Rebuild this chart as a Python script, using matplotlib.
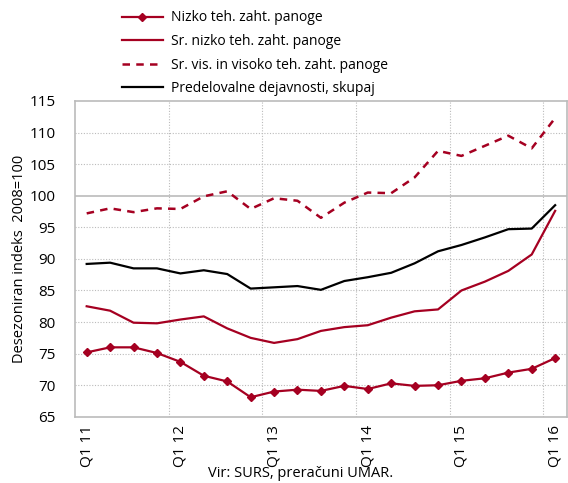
import matplotlib.pyplot as plt

quarters = ["Q1 11", "Q2 11", "Q3 11", "Q4 11", "Q1 12", "Q2 12", "Q3 12", "Q4 12",
            "Q1 13", "Q2 13", "Q3 13", "Q4 13", "Q1 14", "Q2 14", "Q3 14", "Q4 14",
            "Q1 15", "Q2 15", "Q3 15", "Q4 15", "Q1 16"]
nizko = [75.2, 76.0, 76.0, 75.1, 73.7, 71.5, 70.6, 68.1, 69.0, 69.3, 69.1,
         69.9, 69.4, 70.3, 69.9, 70.0, 70.7, 71.1, 72.0, 72.6, 74.3]
sr_nizko = [82.5, 81.8, 79.9, 79.8, 80.4, 80.9, 79.0, 77.5, 76.7, 77.3, 78.6,
            79.2, 79.5, 80.7, 81.7, 82.0, 85.0, 86.4, 88.1, 90.7, 97.6]
sr_visoko = [97.2, 98.0, 97.4, 98.0, 97.9, 99.9, 100.7, 97.9, 99.6, 99.2, 96.5,
             98.9, 100.5, 100.4, 102.9, 107.1, 106.3, 107.9, 109.5, 107.5, 112.3]
skupaj = [89.2, 89.4, 88.5, 88.5, 87.7, 88.2, 87.6, 85.3, 85.5, 85.7, 85.1,
          86.5, 87.1, 87.8, 89.3, 91.2, 92.2, 93.4, 94.7, 94.8, 98.5]

red = "#A50021"
plt.rcParams["font.family"] = ["Open Sans", "DejaVu Sans"]

fig = plt.figure(figsize=(5.68, 4.83), dpi=100)
ax = fig.add_axes([0.132, 0.137, 0.866, 0.654])

x = list(range(len(quarters)))
l1, = ax.plot(x, nizko, color=red, lw=1.6, marker="D", ms=4)
l2, = ax.plot(x, sr_nizko, color=red, lw=1.6)
l3, = ax.plot(x, sr_visoko, color=red, lw=1.8, ls=(0, (3, 2.5)))
l4, = ax.plot(x, skupaj, color="black", lw=1.6)

ax.set_xlim(-0.5, len(quarters) - 0.5)
ax.set_ylim(65, 115)
ax.set_yticks(range(65, 116, 5))
ax.tick_params(axis="y", length=0, labelsize=11, pad=14)

tick_idx = [i for i, q in enumerate(quarters) if q.startswith("Q1")]
ax.set_xticks(tick_idx)
ax.set_xticklabels([quarters[i] for i in tick_idx], rotation=90, fontsize=11)
ax.tick_params(axis="x", length=0, pad=6)

# grid lines between categories, every 4 quarters
for g in [3.5, 7.5, 11.5, 15.5, 19.5]:
    ax.axvline(g, color="#bbbbbb", lw=0.8, ls=(0, (1, 1.5)), zorder=0)
for g in range(70, 115, 5):
    if g == 100:
        ax.axhline(g, color="#bbbbbb", lw=1.2, zorder=0)
    else:
        ax.axhline(g, color="#bbbbbb", lw=0.8, ls=(0, (1, 1.5)), zorder=0)

for s in ax.spines.values():
    s.set_color("#bbbbbb")
    s.set_linewidth(1.2)

ax.set_ylabel("Desezoniran indeks  2008=100", fontsize=10.5, labelpad=2)

fig.legend([l1, l2, l3, l4],
           ["Nizko teh. zaht. panoge", "Sr. nizko teh. zaht. panoge",
            "Sr. vis. in visoko teh. zaht. panoge", "Predelovalne dejavnosti, skupaj"],
           loc="upper left", bbox_to_anchor=(0.197, 1.0), frameon=False,
           fontsize=10, handlelength=2.9, handletextpad=0.6,
           labelspacing=0.62, borderaxespad=0.35)

fig.text(0.53, 0.005, "Vir: SURS, preračuni UMAR.", ha="center", va="bottom", fontsize=10.5)

fig.savefig("out.png", dpi=100)
